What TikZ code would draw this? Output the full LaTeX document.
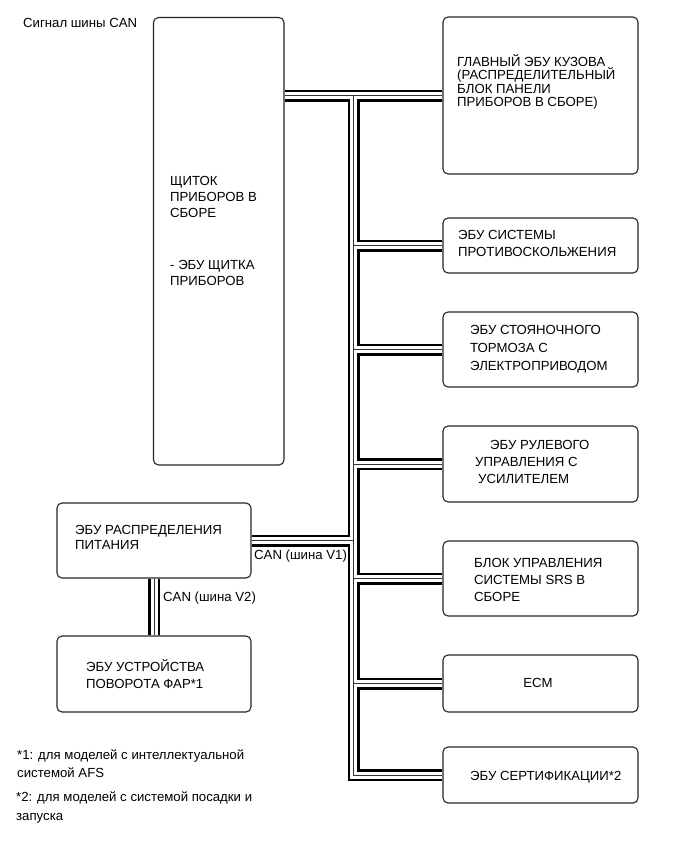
\documentclass[tikz,border=0pt]{standalone}
\usepackage{fontspec}
\setmainfont{Liberation Sans}
\begin{document}
\begin{tikzpicture}[x=1pt,y=-1pt,
  box/.style={draw=black!85, line width=1.1pt, rounded corners=5pt, inner sep=0pt},
  txt/.style={anchor=west, inner sep=0pt, align=left, font=\fontsize{13.2}{#1}\selectfont},
  txt/.default=15,
  busA/.style={line width=12pt, black, line join=miter},
  busB/.style={line width=7pt, white, line join=miter},
  busC/.style={line width=0.9pt, black!80, line join=miter}]
\useasboundingbox[fill=white] (0,0) rectangle (691,855);

% boxes
\node[box, minimum width=130.5pt, minimum height=447.5pt] (cluster) at (218.75,241.25) {};
\node[box, minimum width=195pt, minimum height=157pt] (bcm)  at (540.5,95.5) {};
\node[box, minimum width=195pt, minimum height=55pt]  (abs)  at (540.5,245.5) {};
\node[box, minimum width=195pt, minimum height=75pt]  (epb)  at (540.5,349.5) {};
\node[box, minimum width=195pt, minimum height=76pt]  (eps)  at (540.5,464) {};
\node[box, minimum width=195pt, minimum height=75pt]  (srs)  at (540.5,578.5) {};
\node[box, minimum width=195pt, minimum height=57pt]  (ecm)  at (540.5,683.5) {};
\node[box, minimum width=195pt, minimum height=56pt]  (cert) at (540.5,775) {};
\node[box, minimum width=194pt, minimum height=75pt]  (pdu)  at (154,540.5) {};
\node[box, minimum width=194pt, minimum height=76pt]  (afs)  at (154,674) {};

\coordinate (jt) at (353.5,95.5);

\def\buspaths{(cluster.east |- bcm.west) -- (bcm.west)
  (jt) -- (jt |- cert.west) -- (cert.west)
  (jt |- abs.west) -- (abs.west)
  (jt |- epb.west) -- (epb.west)
  (jt |- eps.west) -- (eps.west)
  (jt |- srs.west) -- (srs.west)
  (jt |- ecm.west) -- (ecm.west)
  (pdu.east) -- (jt |- pdu.east)
  (pdu.south) -- (afs.north)}
\draw[busA] \buspaths;
\draw[busB] \buspaths;
\draw[busC] \buspaths;

% texts
\node[txt] (sig) at (23,23) {Сигнал шины CAN};
\node[txt=16] (cl1) at (170,197) {ЩИТОК\\ПРИБОРОВ В\\СБОРЕ};
\node[txt=16] (cl2) at (170,273) {- ЭБУ ЩИТКА\\ПРИБОРОВ};
\node[txt=13.4] (bcmt) at (457,82) {ГЛАВНЫЙ ЭБУ КУЗОВА\\(РАСПРЕДЕЛИТЕЛЬНЫЙ\\БЛОК ПАНЕЛИ\\ПРИБОРОВ В СБОРЕ)};
\node[txt=17] (abst) at (458,243.5) {ЭБУ СИСТЕМЫ\\ПРОТИВОСКОЛЬЖЕНИЯ};
\node[txt=18] (epbt) at (470,349) {ЭБУ СТОЯНОЧНОГО\\ТОРМОЗА С\\ЭЛЕКТРОПРИВОДОМ};
\node[txt=17] (epst) at (475,462) {\hspace*{15pt}ЭБУ РУЛЕВОГО\\УПРАВЛЕНИЯ С\\\hspace*{3pt}УСИЛИТЕЛЕМ};
\node[txt=17] (srst) at (474,580) {БЛОК УПРАВЛЕНИЯ\\СИСТЕМЫ SRS В\\СБОРЕ};
\node[txt, anchor=center] (ecmt) at (538,683) {ECM};
\node[txt] (certt) at (470,777) {ЭБУ СЕРТИФИКАЦИИ*2};
\node[txt=15] (pdut) at (75,537.5) {ЭБУ РАСПРЕДЕЛЕНИЯ\\ПИТАНИЯ};
\node[txt=17.7] (afst) at (86,674) {ЭБУ УСТРОЙСТВА\\ПОВОРОТА ФАР*1};
\node[txt] (v1) at (254,556) {CAN (шина V1)};
\node[txt] (v2) at (163,598) {CAN (шина V2)};
\node[txt=18] (fn1) at (17,764) {*1: для моделей с интеллектуальной\\системой AFS};
\node[txt=19] (fn2) at (16,807.5) {*2: для моделей с системой посадки и\\запуска};
\end{tikzpicture}
\end{document}
